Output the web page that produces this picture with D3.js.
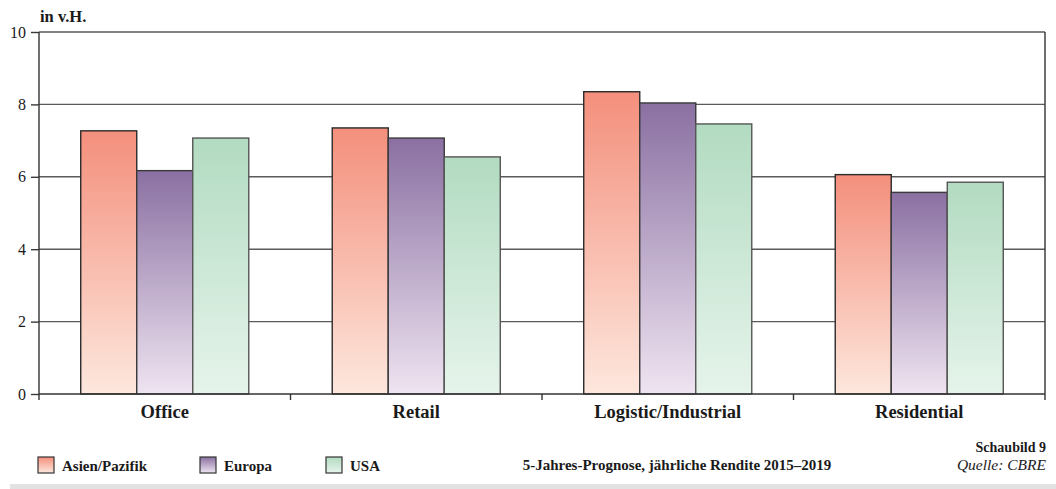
<!DOCTYPE html>
<html>
<head>
<meta charset="utf-8">
<script src="https://cdn.jsdelivr.net/npm/d3@7"></script>
<style>
  html, body { margin: 0; padding: 0; background: #fff; }
  svg { display: block; }
  text { font-family: "Liberation Serif", "DejaVu Serif", serif; fill: #1a1a1a; }
</style>
</head>
<body>
<svg id="chart" width="1056" height="489"></svg>
<script>
// Categories and series
const categories = ["Office", "Retail", "Logistic/Industrial", "Residential"];
const seriesNames = ["Asien/Pazifik", "Europa", "USA"];
const asienPazifik = [7.27, 7.35, 8.35, 6.06];
const europa = [6.17, 7.07, 8.04, 5.57];
const usa = [7.07, 6.55, 7.46, 5.85];
const yTicks = [0, 2, 4, 6, 8, 10];

const seriesValues = [asienPazifik, europa, usa];
const gradientStops = [
  ["#f48f7c", "#fde7dd"],
  ["#8a70a2", "#efe4f1"],
  ["#b2dbc1", "#e6f4eb"]
];
const strokes = ["#2a2a2a", "#3a3a3a", "#555"];

const svg = d3.select("#chart");
const margin = { left: 39, right: 1045, top: 32, bottom: 394 };

const x = d3.scaleBand().domain(categories).range([margin.left, margin.right]).paddingInner(0).paddingOuter(0);
const x1 = d3.scaleBand().domain(seriesNames).range([0, x.bandwidth()]).paddingInner(0).paddingOuter(0.745);
const y = d3.scaleLinear().domain([0, 10]).range([margin.bottom, margin.top]);

// gradients, one per series, applied to each bar's bounding box
const defs = svg.append("defs");
seriesNames.forEach((s, i) => {
  const g = defs.append("linearGradient").attr("id", "grad" + i)
    .attr("x1", 0).attr("y1", 0).attr("x2", 0).attr("y2", 1);
  g.append("stop").attr("offset", "0%").attr("stop-color", gradientStops[i][0]);
  g.append("stop").attr("offset", "100%").attr("stop-color", gradientStops[i][1]);
});

// horizontal grid lines
svg.append("g").selectAll("line").data(yTicks.filter(t => t > 0)).join("line")
  .attr("x1", margin.left).attr("x2", margin.right)
  .attr("y1", d => y(d)).attr("y2", d => y(d))
  .attr("stroke", "#5a5a5a").attr("stroke-width", 1.4);

// bars
const groups = svg.append("g").selectAll("g").data(categories).join("g")
  .attr("transform", d => `translate(${x(d)},0)`);
groups.selectAll("rect")
  .data((c, ci) => seriesNames.map((s, si) => ({ s, si, v: seriesValues[si][ci] })))
  .join("rect")
  .attr("x", d => x1(d.s))
  .attr("width", x1.bandwidth())
  .attr("y", d => y(d.v))
  .attr("height", d => y(0) - y(d.v))
  .attr("fill", d => `url(#grad${d.si})`)
  .attr("stroke", d => strokes[d.si])
  .attr("stroke-width", 1.4);

// y axis
const yAxis = svg.append("g").attr("transform", `translate(${margin.left},0)`)
  .call(d3.axisLeft(y).tickValues(yTicks).tickSize(8).tickPadding(5).tickFormat(d3.format("d")));
yAxis.select(".domain").remove();
yAxis.selectAll(".tick line").attr("stroke", "#3a3a3a").attr("stroke-width", 1.4);
yAxis.selectAll(".tick text").style("font-size", "16px").attr("fill", "#1a1a1a");
yAxis.append("line").attr("x1", 0).attr("x2", 0).attr("y1", margin.top).attr("y2", margin.bottom + 6)
  .attr("stroke", "#333").attr("stroke-width", 1.4);

// right border
svg.append("line").attr("x1", margin.right).attr("x2", margin.right)
  .attr("y1", margin.top).attr("y2", margin.bottom + 6)
  .attr("stroke", "#333").attr("stroke-width", 1.4);

// x axis baseline, separator ticks and labels
svg.append("line").attr("x1", margin.left).attr("x2", margin.right)
  .attr("y1", y(0)).attr("y2", y(0)).attr("stroke", "#333").attr("stroke-width", 1.4);
svg.append("g").selectAll("line").data(categories.slice(1)).join("line")
  .attr("x1", d => x(d)).attr("x2", d => x(d))
  .attr("y1", y(0)).attr("y2", y(0) + 6)
  .attr("stroke", "#333").attr("stroke-width", 1.4);
svg.append("g").selectAll("text").data(categories).join("text")
  .attr("x", d => x(d) + x.bandwidth() / 2)
  .attr("y", 418)
  .attr("text-anchor", "middle")
  .style("font-size", "18.5px").style("font-weight", "bold")
  .text(d => d);

// unit label
svg.append("text").attr("x", 40).attr("y", 22)
  .style("font-size", "16.5px").style("font-weight", "bold").text("in v.H.");

// legend
const legendX = [38, 200, 326];
const legend = svg.append("g").selectAll("g").data(seriesNames).join("g")
  .attr("transform", (d, i) => `translate(${legendX[i]},457)`);
legend.append("rect").attr("width", 16).attr("height", 16)
  .attr("fill", (d, i) => `url(#grad${i})`)
  .attr("stroke", "#333").attr("stroke-width", 1.2);
legend.append("text").attr("x", 24).attr("y", 14)
  .style("font-size", "15px").style("font-weight", "bold").text(d => d);

// caption
svg.append("text").attr("x", 677).attr("y", 470).attr("text-anchor", "middle")
  .style("font-size", "15px").style("font-weight", "bold")
  .text("5-Jahres-Prognose, jährliche Rendite 2015–2019");
svg.append("text").attr("x", 1046).attr("y", 452).attr("text-anchor", "end")
  .style("font-size", "14px").style("font-weight", "bold").text("Schaubild 9");
svg.append("text").attr("x", 1046).attr("y", 470).attr("text-anchor", "end")
  .style("font-size", "15.5px").style("font-style", "italic").text("Quelle: CBRE");

// footer band
svg.append("rect").attr("x", 10).attr("y", 484).attr("width", 1046).attr("height", 5).attr("fill", "#e2e2e2");
</script>
</body>
</html>
